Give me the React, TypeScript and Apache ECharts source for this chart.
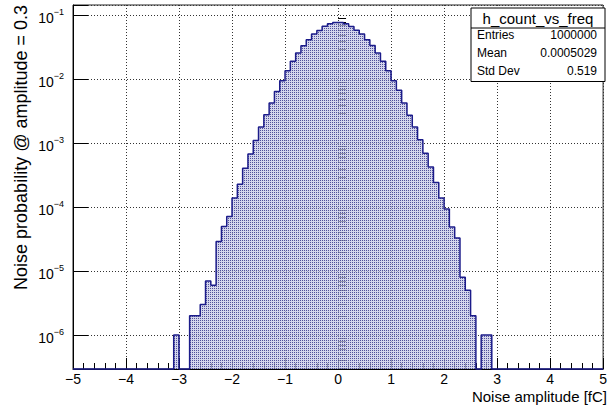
import React, { useEffect, useRef } from "react";
import * as echarts from "echarts";

// ---- data ----
const X_MIN = -5;
const X_MAX = 5;
const BIN_WIDTH = 0.1;
const Y_MIN = 2.935e-7;
const Y_MAX = 0.1471;

// bin contents (probability per 0.1 bin), bins from -5.0 to 5.0
const leftEmptyBins = [0, 0, 0, 0, 0, 0, 0, 0, 0, 0, 0, 0, 0, 0, 0, 0, 0, 0, 0];
const leftTail = [1e-6, 0, 0, 2e-6, 2e-6, 3e-6, 7e-6, 6e-6, 2.9e-5, 5.0e-5, 7.2e-5, 1.4e-4, 2.3e-4, 4.1e-4, 6.8e-4];
const core = [
  1.11e-3, 1.81e-3, 2.82e-3, 4.29e-3, 6.53e-3, 9.6e-3, 1.38e-2, 1.93e-2, 2.61e-2, 3.39e-2,
  4.21e-2, 5.16e-2, 5.89e-2, 6.81e-2, 7.5e-2, 7.86e-2, 7.86e-2, 7.5e-2, 6.8e-2, 5.9e-2,
  5.16e-2, 4.2e-2, 3.4e-2, 2.6e-2, 1.93e-2, 1.38e-2, 9.6e-3, 6.8e-3, 4.3e-3, 2.76e-3,
  1.8e-3, 1.14e-3,
];
const rightTail = [7.0e-4, 4.27e-4, 2.45e-4, 1.4e-4, 9.4e-5, 4.9e-5, 3.3e-5, 8e-6, 5e-6, 2e-6, 0, 1e-6, 1e-6];
const rightEmptyBins = [0, 0, 0, 0, 0, 0, 0, 0, 0, 0, 0, 0, 0, 0, 0, 0, 0, 0, 0, 0, 0];

const yDecades = [-6, -5, -4, -3, -2, -1];
const xTitle = "Noise amplitude [fC]";
const yTitle = "Noise probability @ amplitude = 0.3";
const statsTitle = "h_count_vs_freq";
const statsLabels = ["Entries", "Mean", "Std Dev"];
const statsValues = ["1000000", "0.0005029", "0.519"];

const FONT = "Liberation Sans, Arial, Helvetica, sans-serif";

export default function App() {
  const ref = useRef<HTMLDivElement>(null);

  useEffect(() => {
    if (!ref.current) return;
    const chart = echarts.init(ref.current, undefined, { renderer: "svg" });

    const bins = [...leftEmptyBins, ...leftTail, ...core, ...rightTail, ...rightEmptyBins];
    const pts: [number, number][] = bins.map((v, i) => [
      +(X_MIN + i * BIN_WIDTH).toFixed(2),
      v > 0 ? v : Y_MIN,
    ]);
    const last = bins[bins.length - 1];
    pts.push([X_MAX, last > 0 ? last : Y_MIN]);

    // dotted hatch-like fill
    const cv = document.createElement("canvas");
    cv.width = 2;
    cv.height = 2;
    const ctx = cv.getContext("2d");
    let fillColor: any = "rgba(170,172,212,0.8)";
    if (ctx) {
      ctx.fillStyle = "rgba(198,200,230,0.75)";
      ctx.fillRect(0, 0, 2, 2);
      ctx.fillStyle = "rgba(65,65,145,0.9)";
      ctx.fillRect(0, 0, 1, 1);
      fillColor = { image: cv, repeat: "repeat" };
    }

    const minorY: number[] = [];
    for (let e = -7; e <= -1; e++) {
      for (let m = 2; m <= 9; m++) {
        const v = m * Math.pow(10, e);
        if (v > Y_MIN && v < Y_MAX) minorY.push(Math.log10(v));
      }
    }

    const grid = { left: 73, right: 2, top: 5, bottom: 37 };
    const Z = 100;

    chart.setOption({
      animation: false,
      grid: { ...grid, show: true, borderColor: "#222", borderWidth: 1, backgroundColor: "#fff" },
      xAxis: {
        type: "value",
        min: X_MIN,
        max: X_MAX,
        interval: 1,
        axisLine: { show: true, onZero: false, lineStyle: { color: "#000", width: 1 } },
        axisTick: { show: true, inside: true, length: 11, lineStyle: { color: "#000" } },
        minorTick: { show: true, splitNumber: 5, length: 6, lineStyle: { color: "#000" } },
        axisLabel: {
          showMinLabel: true,
          showMaxLabel: true,
          margin: 3,
          fontSize: 14,
          lineHeight: 14,
          fontFamily: FONT,
          color: "#000",
          formatter: (v: number) => String(v).replace("-", "\u2212"),
        },
        splitLine: { show: true, lineStyle: { type: [1, 2], color: "#333", width: 1 } },
      },
      yAxis: [
        {
          type: "log",
          logBase: 10,
          min: Y_MIN,
          max: Y_MAX,
          axisLine: { show: true, onZero: false, lineStyle: { color: "#000", width: 1 } },
          axisTick: { show: true, inside: true, length: 15, lineStyle: { color: "#000" } },
          axisLabel: {
            margin: 9,
            color: "#000",
            fontFamily: FONT,
            padding: [5, 0, 0, 0],
            formatter: (v: number) => {
              const e = Math.log10(v);
              const r = Math.round(e);
              if (Math.abs(e - r) > 1e-6 || !yDecades.includes(r)) return "";
              return `{b|10}{e|${r < 0 ? "\u2212" : ""}${Math.abs(r)}}`;
            },
            rich: {
              b: { fontSize: 14, lineHeight: 14, verticalAlign: "bottom", fontFamily: FONT, color: "#000" },
              e: {
                fontSize: 9,
                lineHeight: 9,
                verticalAlign: "bottom",
                padding: [0, 0, 8.5, 0],
                fontFamily: FONT,
                color: "#000",
              },
            },
          },
          splitLine: { show: true, lineStyle: { type: [1, 2], color: "#333", width: 1 } },
        },
        {
          type: "value",
          min: Math.log10(Y_MIN),
          max: Math.log10(Y_MAX),
          position: "left",
          axisLine: { show: false },
          axisLabel: { show: false },
          splitLine: { show: false },
          axisTick: {
            show: true,
            inside: true,
            length: 8,
            customValues: minorY,
            lineStyle: { color: "#000" },
          },
        },
      ],
      series: [
        {
          type: "line",
          step: "end",
          data: pts,
          yAxisIndex: 0,
          symbol: "none",
          clip: false,
          lineStyle: { color: "#1c1c8a", width: 1.5 },
          areaStyle: { origin: "start", color: fillColor, opacity: 1 },
          z: 1,
        },
      ],
      graphic: [
        {
          type: "text",
          x: 607,
          y: 396,
          style: {
            text: xTitle,
            align: "right",
            verticalAlign: "middle",
            fontSize: 15,
            lineHeight: 15,
            fontFamily: FONT,
            fill: "#000",
          },
        },
        {
          type: "text",
          x: 21,
          y: 5,
          rotation: Math.PI / 2,
          style: {
            text: yTitle,
            align: "right",
            verticalAlign: "middle",
            fontSize: 18,
            fontFamily: FONT,
            fill: "#000",
          },
        },
        {
          type: "rect",
          z: Z,
          shape: { x: 471, y: 8, width: 134, height: 73.5 },
          style: { fill: "#fff", stroke: "#000", lineWidth: 1 },
        },
        {
          type: "line",
          z: Z + 1,
          shape: { x1: 471, y1: 28, x2: 605, y2: 28 },
          style: { stroke: "#000", lineWidth: 1 },
        },
        {
          type: "text",
          z: Z + 1,
          x: 538,
          y: 18.5,
          style: {
            text: statsTitle,
            align: "center",
            verticalAlign: "middle",
            fontSize: 15,
            fontFamily: FONT,
            fill: "#000",
          },
        },
        ...statsLabels.map((t, i) => ({
          type: "text",
          z: Z + 1,
          x: 477,
          y: 35 + i * 18.2,
          style: { text: t, align: "left", verticalAlign: "middle", fontSize: 12, fontFamily: FONT, fill: "#000" },
        })),
        ...statsValues.map((t, i) => ({
          type: "text",
          z: Z + 1,
          x: 597,
          y: 35 + i * 18.2,
          style: { text: t, align: "right", verticalAlign: "middle", fontSize: 12, fontFamily: FONT, fill: "#000" },
        })),
      ],
    });

    return () => chart.dispose();
  }, []);

  return (
    <div
      ref={ref}
      style={{ position: "fixed", left: 0, top: 0, width: 610, height: 406, background: "#fff" }}
    />
  );
}
